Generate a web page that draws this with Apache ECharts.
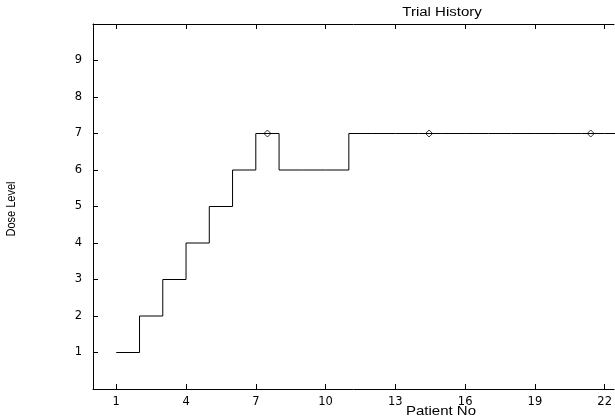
<!DOCTYPE html>
<html>
<head>
<meta charset="utf-8">
<script src="https://cdn.jsdelivr.net/npm/echarts@6/dist/echarts.min.js"></script>
<style>
html,body{margin:0;padding:0;background:#fff;}
#chart{width:615px;height:418px;}
</style>
</head>
<body>
<div id="chart"></div>
<script>
// Data
var patients = [1,2,3,4,5,6,7,8,9,10,11,12,13,14,15,16,17,18,19,20,21,22,23];
var doseLevels = [1,2,3,4,5,6,7,6,6,6,7,7,7,7,7,7,7,7,7,7,7,7,7];
var markerX = [7.5, 14.45, 21.4];
var markerY = [7, 7, 7];
var xTickLabels = ['1','4','7','10','13','16','19','22'];
var yTickLabels = ['1','2','3','4','5','6','7','8','9'];

var xTickPos = xTickLabels.map(Number);
var yTickPos = yTickLabels.map(Number);

var lineData = patients.map(function(p, i){ return [p, doseLevels[i]]; });
var markerData = markerX.map(function(x, i){ return [x, markerY[i]]; });

var tickFont = 'DejaVu Sans, Arial, sans-serif';
var textFont = 'Liberation Sans, Arial, sans-serif';
var chart = echarts.init(document.getElementById('chart'), null, {renderer:'canvas'});
chart.setOption({
  animation: false,
  backgroundColor: '#fff',
  grid: {left: 93, top: 24, right: 0, bottom: 29, containLabel: false},
  xAxis: [{
    type: 'value', min: 0, max: 22.4, position: 'bottom',
    splitLine: {show: false},
    axisLine: {show: true, onZero: false, lineStyle: {color: '#000', width: 1}},
    axisTick: {show: true, inside: true, length: 5, customValues: xTickPos, lineStyle: {color: '#000'}},
    axisLabel: {show: true, customValues: xTickPos, margin: 7, color: '#000', fontFamily: tickFont, fontSize: 11.5}
  },{
    type: 'value', min: 0, max: 22.4, position: 'top',
    splitLine: {show: false},
    axisLine: {show: true, onZero: false, lineStyle: {color: '#000', width: 1}},
    axisTick: {show: true, inside: true, length: 5, customValues: xTickPos, lineStyle: {color: '#000'}},
    axisLabel: {show: false}
  }],
  yAxis: {
    type: 'value', min: 0, max: 10,
    splitLine: {show: false},
    axisLine: {show: true, onZero: false, lineStyle: {color: '#000', width: 1}},
    axisTick: {show: true, inside: true, length: 5, customValues: yTickPos, lineStyle: {color: '#000'}},
    axisLabel: {show: true, customValues: yTickPos, margin: 11, color: '#000', fontFamily: tickFont, fontSize: 11.5}
  },
  graphic: [
    {type: 'text', x: 442, y: 13, scaleX: 1.25, style: {text: 'Trial History', fill: '#000', font: '12px ' + textFont, textAlign: 'center', textVerticalAlign: 'middle'}},
    {type: 'text', x: 441, y: 412, scaleX: 1.25, style: {text: 'Patient No', fill: '#000', font: '12px ' + textFont, textAlign: 'center', textVerticalAlign: 'middle'}},
    {type: 'text', x: 12, y: 209, rotation: Math.PI / 2, scaleY: 1.1, style: {text: 'Dose Level', fill: '#000', font: '11px ' + textFont, textAlign: 'center', textVerticalAlign: 'middle'}}
  ],
  series: [{
    type: 'line', data: lineData, step: 'end', showSymbol: false, clip: true,
    lineStyle: {color: '#000', width: 1}, silent: true
  },{
    type: 'scatter', data: markerData, symbol: 'diamond', symbolSize: 7,
    itemStyle: {color: '#fff', borderColor: '#000', borderWidth: 1}, silent: true
  }]
});
</script>
</body>
</html>
